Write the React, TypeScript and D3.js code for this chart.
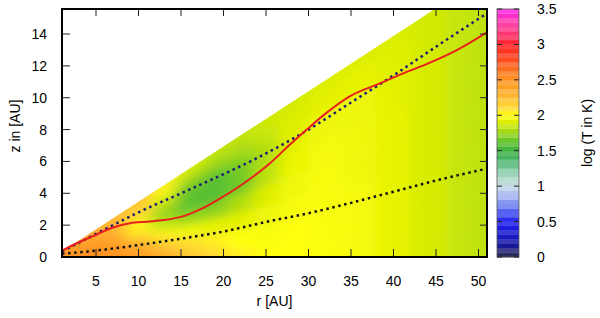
import * as d3 from "d3";

const WIDTH = 600;
const HEIGHT = 318;
const FONT = "'Liberation Sans', Arial, sans-serif";

// wedge opening: z_max = SLOPE * r
const SLOPE = 0.347;

// heatmap grid, log T
// columns: radius r [AU], rows: fraction of wedge height z / (SLOPE * r)
const R_COLS = [1, 4, 7, 10, 13, 16, 19, 22, 25, 28, 32, 36, 40, 44, 48, 51];
const H_ROWS = [0, 0.15, 0.3, 0.45, 0.6, 0.75, 0.9, 1.0];
const LOGT = [
  [2.52, 2.52, 2.5, 2.5, 2.48, 2.45, 2.42, 2.4],
  [2.52, 2.52, 2.5, 2.48, 2.45, 2.4, 2.36, 2.34],
  [2.5, 2.5, 2.46, 2.4, 2.34, 2.3, 2.27, 2.25],
  [2.45, 2.4, 2.25, 2.06, 2.02, 2.1, 2.18, 2.2],
  [2.32, 2.22, 2.05, 1.85, 1.74, 1.84, 1.97, 2.05],
  [2.2, 2.1, 1.95, 1.74, 1.6, 1.63, 1.78, 1.9],
  [2.12, 2.05, 1.92, 1.72, 1.58, 1.6, 1.76, 1.85],
  [2.05, 2.0, 1.92, 1.8, 1.66, 1.68, 1.79, 1.85],
  [2.0, 1.98, 1.95, 1.9, 1.82, 1.8, 1.85, 1.87],
  [2.0, 2.0, 1.98, 1.96, 1.94, 1.92, 1.9, 1.88],
  [1.99, 1.99, 1.98, 1.98, 1.97, 1.95, 1.92, 1.9],
  [1.97, 1.97, 1.97, 1.96, 1.96, 1.95, 1.93, 1.9],
  [1.93, 1.93, 1.93, 1.93, 1.93, 1.92, 1.91, 1.9],
  [1.89, 1.89, 1.89, 1.89, 1.89, 1.89, 1.88, 1.88],
  [1.85, 1.85, 1.85, 1.85, 1.85, 1.85, 1.85, 1.85],
  [1.83, 1.83, 1.83, 1.83, 1.83, 1.83, 1.83, 1.83],
];

// curves
const RED_R = [1, 2.5, 4.6, 7, 9, 11, 13, 15.5, 17.5, 19.5, 21.5, 23.5, 25.5, 27.5, 29.8, 32, 34.9, 38.4, 41, 44.3, 47.5, 51];
const RED_Z = [0.4, 0.8, 1.3, 1.85, 2.12, 2.22, 2.32, 2.6, 3.05, 3.65, 4.3, 5.05, 5.9, 6.9, 8.0, 9.0, 10.1, 10.9, 11.5, 12.2, 13.0, 14.1];
const UPPER_R = [1, 5, 10, 15, 20, 25, 30, 35, 40, 45, 51];
const UPPER_Z = [0.35, 1.45, 2.8, 4.0, 5.2, 6.5, 8.0, 9.7, 11.4, 13.2, 15.3];
const LOWER_R = [1, 5, 10, 15, 20, 25, 30, 35, 40, 45, 51];
const LOWER_Z = [0.2, 0.4, 0.75, 1.15, 1.6, 2.2, 2.75, 3.4, 4.1, 4.8, 5.55];

// ticks
const X_TICKS = [5, 10, 15, 20, 25, 30, 35, 40, 45, 50];
const Y_TICKS = [0, 2, 4, 6, 8, 10, 12, 14];
const CB_TICKS = [0, 0.5, 1, 1.5, 2, 2.5, 3, 3.5];

// palette
const PAL_V = [0, 0.15, 0.3, 0.5, 0.65, 0.8, 0.95, 1.05, 1.2, 1.35, 1.5, 1.65, 1.8, 1.9, 2.0, 2.1, 2.3, 2.5, 2.65, 2.8, 3.0, 3.1, 3.3, 3.5];
const PAL_C = ["#303050", "#181890", "#1818c8", "#2020f0", "#5060f0", "#90a0f0", "#c0d0f0", "#c0dcd8", "#90d0b0", "#50b870", "#38b040", "#68c828", "#b0dc10", "#dcee00", "#ffff10", "#ffdc30", "#ffb030", "#ff9420", "#ff7020", "#ff4820", "#ff2020", "#ff3060", "#ff40a8", "#ff20e8"];

const M = { left: 62, top: 9, right: 487, bottom: 257 };
const CB = { left: 497, right: 519 };

const App = () => {
  const x = d3.scaleLinear().domain([1, 51]).range([M.left, M.right]);
  const y = d3.scaleLinear().domain([0, 15.57]).range([M.bottom, M.top]);
  const cbY = d3.scaleLinear().domain([0, 3.5]).range([M.bottom, M.top]);
  const color = d3.scaleLinear<string>().domain(PAL_V).range(PAL_C).interpolate(d3.interpolateRgb).clamp(true);

  const zAt = (r: number, h: number) => h * SLOPE * Math.max(r, 1);

  const cells: { d: string; fill: string }[] = [];
  R_COLS.forEach((r, i) => {
    const ra = i === 0 ? -3 : (R_COLS[i - 1] + r) / 2;
    const rb = i === R_COLS.length - 1 ? 56 : (r + R_COLS[i + 1]) / 2;
    H_ROWS.forEach((h, j) => {
      const ha = j === 0 ? -0.6 : (H_ROWS[j - 1] + h) / 2;
      const hb = j === H_ROWS.length - 1 ? 1.7 : (h + H_ROWS[j + 1]) / 2;
      const pts: [number, number][] = [
        [x(ra), y(zAt(ra, ha))],
        [x(rb), y(zAt(rb, ha))],
        [x(rb), y(zAt(rb, hb))],
        [x(ra), y(zAt(ra, hb))],
      ];
      cells.push({ d: "M" + pts.map((p) => p.join(",")).join("L") + "Z", fill: color(LOGT[i][j]) });
    });
  });

  const zTop = y.domain()[1];
  const wedge = [
    [x(1), y(0)],
    [x(51), y(0)],
    [x(51), y(zTop)],
    [x(zTop / SLOPE), y(zTop)],
    [x(1), y(SLOPE * 1)],
  ];

  const line = (rs: number[], zs: number[]) =>
    d3
      .line<number>()
      .x((_, i) => x(rs[i]))
      .y((z) => y(z))
      .curve(d3.curveMonotoneX)(zs) || "";

  const N_BANDS = 56;
  const bands = d3.range(N_BANDS).map((k) => {
    const v0 = (k * 3.5) / N_BANDS;
    const v1 = ((k + 1) * 3.5) / N_BANDS;
    const c = color((v0 + v1) / 2);
    return {
      y: cbY(v1),
      h: cbY(v0) - cbY(v1),
      fill: k % 2 ? d3.interpolateRgb(c, "#ffffff")(0.14) : c,
    };
  });

  return (
    <svg width={WIDTH} height={HEIGHT} style={{ position: "absolute", left: 0, top: 0, background: "#fff" }} fontFamily={FONT}>
      <defs>
        <clipPath id="wedge">
          <polygon points={wedge.map((p) => p.join(",")).join(" ")} />
        </clipPath>
        <clipPath id="plot">
          <rect x={M.left} y={M.top} width={M.right - M.left} height={M.bottom - M.top} />
        </clipPath>
        <filter id="smooth" filterUnits="userSpaceOnUse" x={0} y={-100} width={WIDTH} height={500}>
          <feGaussianBlur stdDeviation="8 4" />
        </filter>
      </defs>

      <g clipPath="url(#wedge)">
        <g filter="url(#smooth)">
          {cells.map((c, i) => (
            <path key={i} d={c.d} fill={c.fill} stroke={c.fill} strokeWidth={0.5} />
          ))}
        </g>
      </g>

      <g clipPath="url(#plot)" fill="none">
        <path d={line(LOWER_R, LOWER_Z)} stroke="#111" strokeWidth={2.5} strokeDasharray="2.5 3.6" />
        <path d={line(UPPER_R, UPPER_Z)} stroke="#1c1c70" strokeWidth={2.5} strokeDasharray="2.5 3.6" />
        <path d={line(RED_R, RED_Z)} stroke="#e8201c" strokeWidth={2} />
      </g>

      {/* ticks, inward on all sides */}
      <g stroke="#222" strokeWidth={1}>
        {X_TICKS.map((t) => (
          <g key={t}>
            <line x1={x(t)} x2={x(t)} y1={M.bottom} y2={M.bottom - 8} />
            <line x1={x(t)} x2={x(t)} y1={M.top} y2={M.top + 7} />
          </g>
        ))}
        {Y_TICKS.map((t) => (
          <g key={t}>
            <line x1={M.left} x2={M.left + 8} y1={y(t)} y2={y(t)} />
            <line x1={M.right} x2={M.right - 7} y1={y(t)} y2={y(t)} />
          </g>
        ))}
      </g>
      <rect x={M.left} y={M.top} width={M.right - M.left} height={M.bottom - M.top} fill="none" stroke="#000" strokeWidth={2} />

      <g fontSize={14} fill="#000">
        {X_TICKS.map((t) => (
          <text key={t} x={x(t)} y={286} textAnchor="middle">
            {t}
          </text>
        ))}
        {Y_TICKS.map((t) => (
          <text key={t} x={47} y={y(t)} textAnchor="end" dominantBaseline="central">
            {t}
          </text>
        ))}
        <text x={(M.left + M.right) / 2} y={306} textAnchor="middle">
          r [AU]
        </text>
        <text transform={`translate(20,126) rotate(-90)`} textAnchor="middle">
          z in [AU]
        </text>
      </g>

      {/* colour box */}
      <g>
        {bands.map((b, i) => (
          <rect key={i} x={CB.left} y={b.y} width={CB.right - CB.left} height={b.h + 0.3} fill={b.fill} />
        ))}
        <rect x={CB.left} y={M.top} width={CB.right - CB.left} height={M.bottom - M.top} fill="none" stroke="#555" strokeWidth={0.8} />
        <g stroke="#222" strokeWidth={1}>
          {CB_TICKS.map((t) => (
            <g key={t}>
              <line x1={CB.left} x2={CB.left + 5} y1={cbY(t)} y2={cbY(t)} />
              <line x1={CB.right} x2={CB.right - 5} y1={cbY(t)} y2={cbY(t)} />
            </g>
          ))}
        </g>
        <g fontSize={14} fill="#000">
          {CB_TICKS.map((t) => (
            <text key={t} x={537} y={cbY(t)} dominantBaseline="central">
              {t}
            </text>
          ))}
          <text transform={`translate(592,133) rotate(-90)`} textAnchor="middle">
            log (T in K)
          </text>
        </g>
      </g>
    </svg>
  );
};

export default App;
